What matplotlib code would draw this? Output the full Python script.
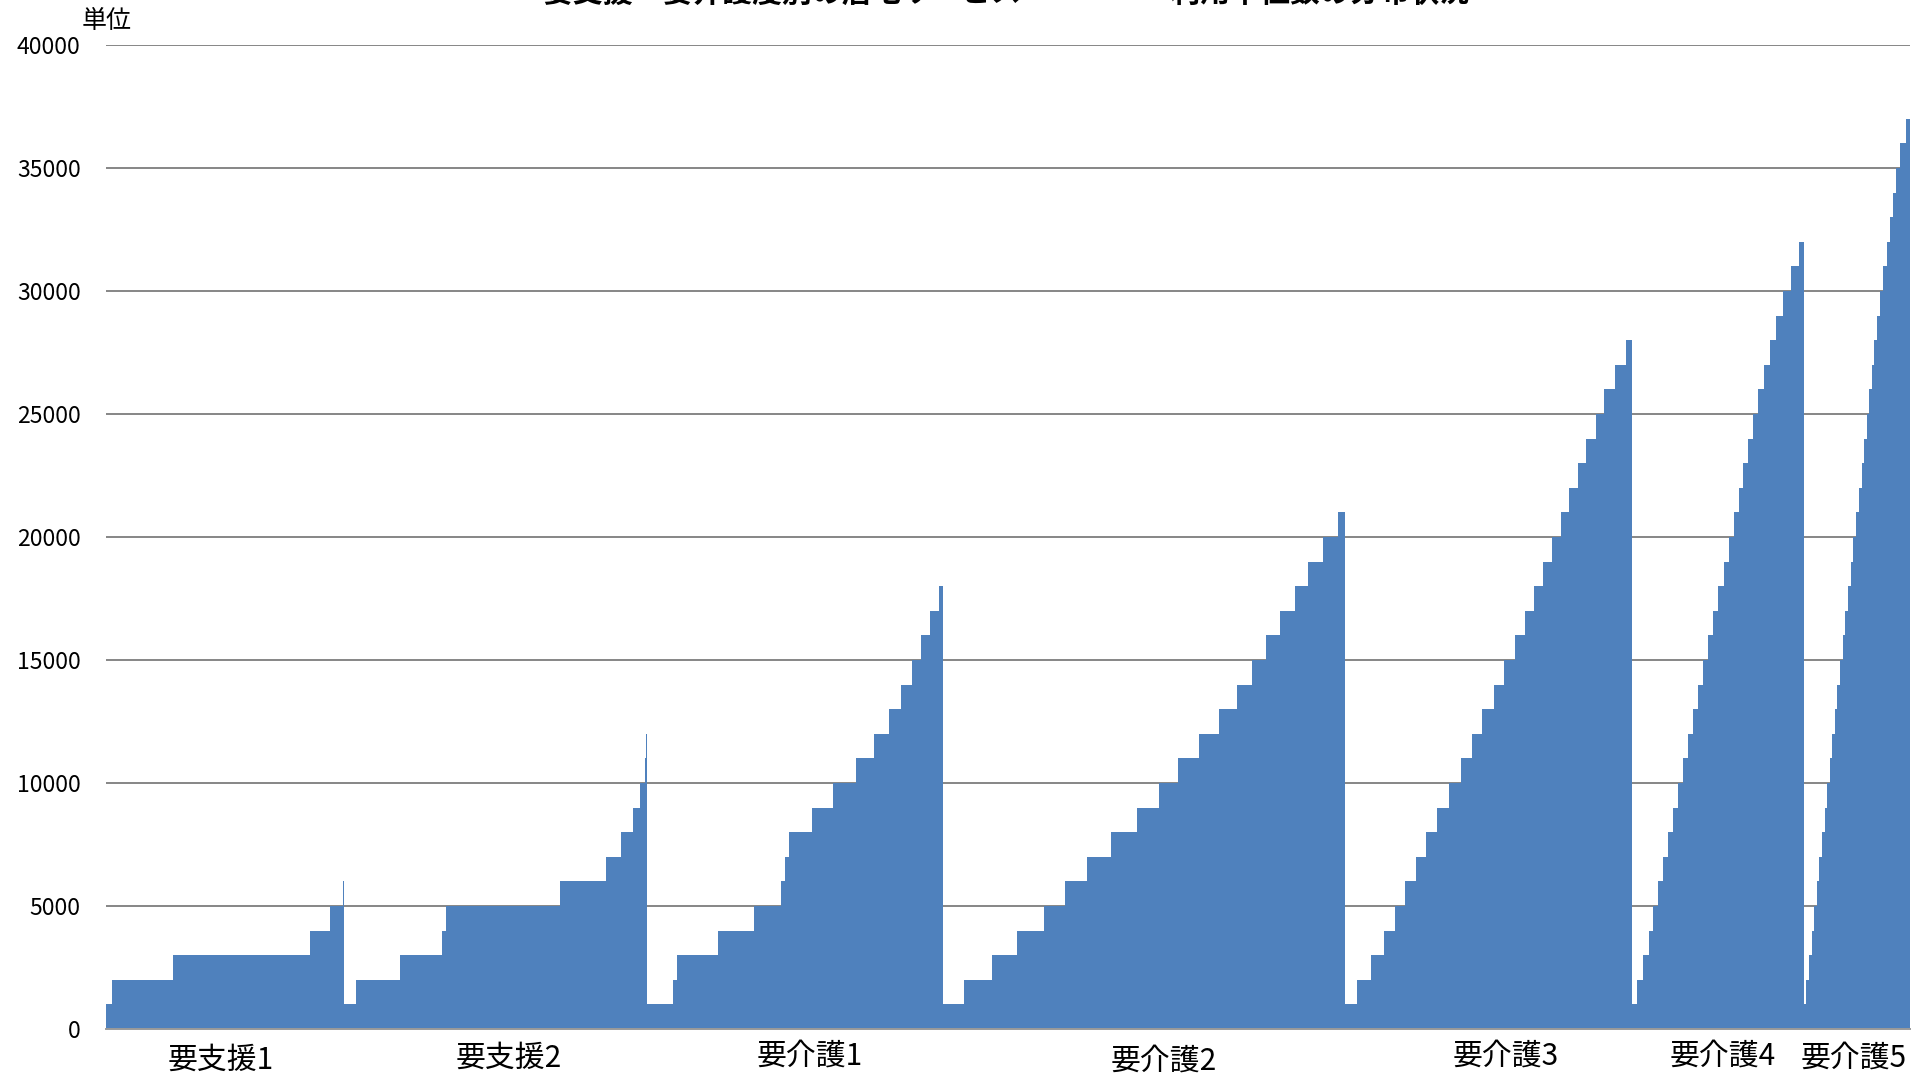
import numpy as np
import matplotlib
matplotlib.use("Agg")
import matplotlib.pyplot as plt
import matplotlib.transforms as mtransforms

plt.rcParams['font.family'] = ['Noto Sans CJK JP', 'DejaVu Sans']

# Dati: per ogni livello, numero di utenti (scala relativa) per fascia di 1000 unità
# la fascia i-esima vale (i+1)*1000 unità
groups = ['要支援1', '要支援2', '要介護1', '要介護2', '要介護3', '要介護4', '要介護5']

counts_shien1 = [56, 489, 1122, 159, 103, 14]
counts_shien2 = [97, 359, 339, 33, 932, 370, 119, 101, 60, 35, 11, 8]
counts_kaigo1 = [212, 30, 339, 288, 225, 30, 30, 187, 172, 190, 143, 128, 98, 87,
                 73, 74, 70, 33]
counts_kaigo2 = [171, 228, 203, 220, 174, 174, 198, 215, 179, 152, 168, 163, 149,
                 123, 116, 111, 123, 108, 117, 122, 60]
counts_kaigo3 = [95, 120, 100, 90, 83, 87, 87, 87, 97, 98, 87, 84, 95, 87, 84, 82,
                 76, 73, 73, 71, 68, 70, 66, 81, 71, 84, 92, 52]
counts_kaigo4 = [35, 52, 46, 38, 41, 40, 38, 41, 38, 40, 41, 43, 41, 41, 40, 41,
                 43, 44, 40, 41, 41, 38, 38, 43, 41, 45, 46, 55, 54, 62, 66, 43]
counts_kaigo5 = [17, 27, 22, 19, 19, 19, 21, 25, 19, 21, 19, 22, 22, 24, 19, 22,
                 24, 19, 22, 21, 25, 24, 19, 19, 20, 22, 22, 19, 24, 30, 30, 24,
                 25, 21, 33, 54, 33]

step_unit = 1000
yticks = [0, 5000, 10000, 15000, 20000, 25000, 30000, 35000, 40000]
title = '要支援・要介護度別の居宅サービス　　　　　利用単位数の分布状況'
ylabel = '単位'

all_counts = [counts_shien1, counts_shien2, counts_kaigo1, counts_kaigo2,
              counts_kaigo3, counts_kaigo4, counts_kaigo5]

# Costruzione gradini
values = []
widths = []
for c in all_counts:
    values += [step_unit * (i + 1) for i in range(len(c))]
    widths += c
values = np.array(values)
edges = np.concatenate([[0], np.cumsum(widths)])

# Centri dei gruppi per le etichette
group_edges = np.concatenate([[0], np.cumsum([sum(c) for c in all_counts])])
group_centers = (group_edges[:-1] + group_edges[1:]) / 2

# spostamento delle etichette (unità asse x) e loro quota (pixel dal top)
label_dx = [-30, 110, 120, 160, 140, 40, -30]
label_ypx = [1060, 1058, 1056, 1061, 1056, 1056, 1058]

W, H = 1925, 1077
fig = plt.figure(figsize=(W / 100, H / 100), dpi=100)
ax = fig.add_axes([105.6 / W, 48 / H, 1804.8 / W, 984 / H])

ax.stairs(values, edges, fill=True, color='#4F81BD', baseline=0, linewidth=0, zorder=2)

ax.set_xlim(0, edges[-1])
ax.set_ylim(0, 40000)
ax.set_yticks(yticks)
ax.set_yticklabels([str(v) for v in yticks], fontsize=16.5)
ax.set_xticks([])
ax.tick_params(axis='y', length=0, pad=18)
ax.yaxis.grid(True, color='#868686', linewidth=1.4)
ax.set_axisbelow(True)

for s in ['top', 'left', 'right']:
    ax.spines[s].set_visible(False)
ax.spines['bottom'].set_color('#9a9a9a')
ax.spines['bottom'].set_linewidth(1.4)
ax.spines['bottom'].set_zorder(3)

# Etichette dei gruppi sotto l'asse
trans = mtransforms.blended_transform_factory(ax.transData, ax.transAxes)
for name, xc, dx, ypx in zip(groups, group_centers, label_dx, label_ypx):
    ax.text(xc + dx, (1029 - ypx) / 984, name, transform=trans,
            ha='center', va='center', fontsize=21.5)

fig.text(82 / W, 1 - 21 / H, ylabel, ha='left', va='center', fontsize=18)
fig.text(1006 / W, 1 - 8 / H, title, ha='center', va='bottom', fontsize=21.5,
         fontweight='bold')

fig.savefig('out.png', dpi=100)
